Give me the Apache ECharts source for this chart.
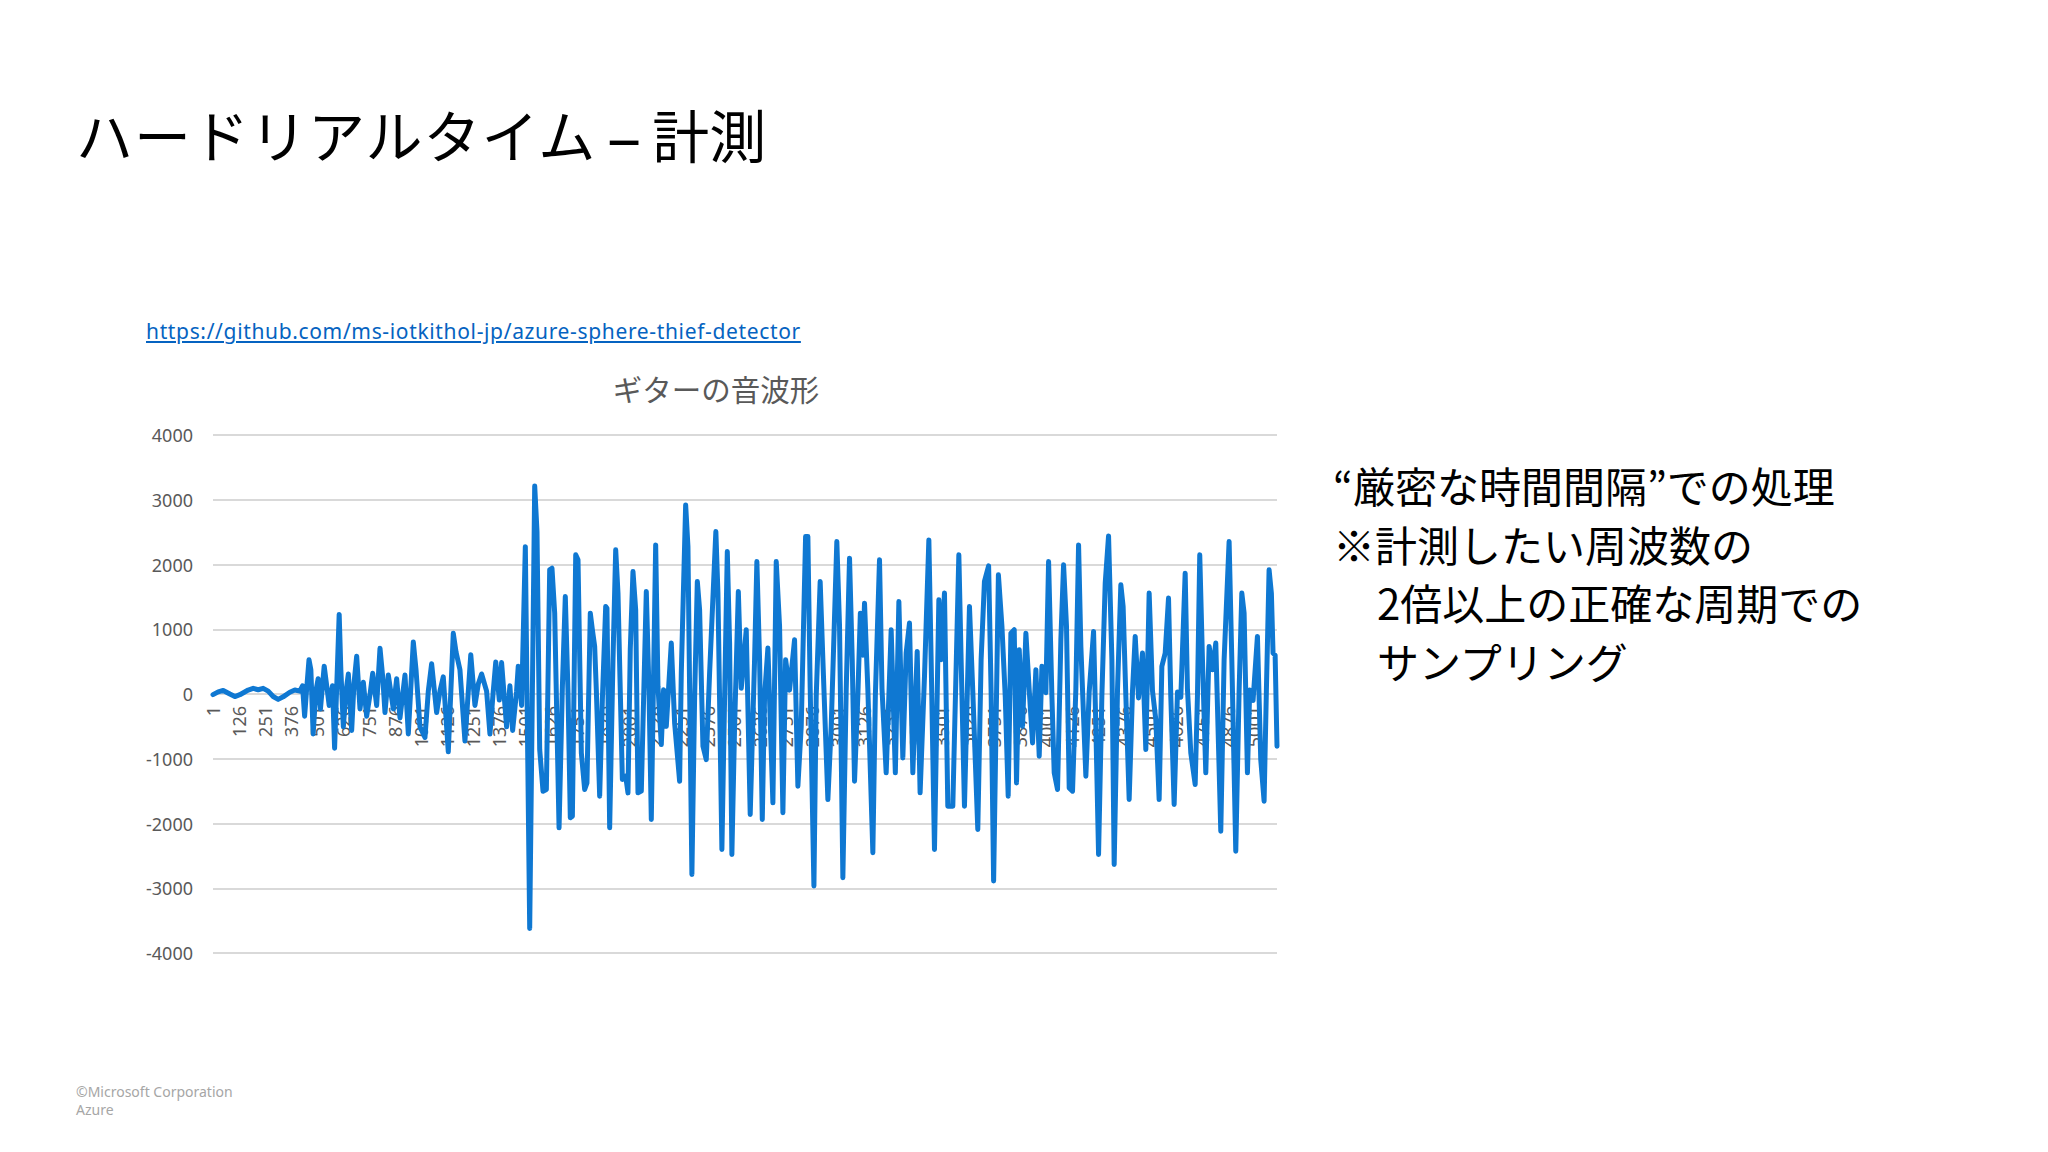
<!DOCTYPE html>
<html><head><meta charset="utf-8">
<script src="https://cdn.jsdelivr.net/npm/echarts@6/dist/echarts.min.js"></script>
<style>
html,body{margin:0;padding:0;width:2048px;height:1152px;background:#fff;overflow:hidden}
#chart{position:absolute;left:0;top:0;width:2048px;height:1152px}
.t{position:absolute;white-space:nowrap;margin:0;padding:0}
#mainTitle{left:76px;top:105px;font-family:"Noto Sans CJK JP";font-size:57px;line-height:57px;color:#000}
#mainTitle .kana{letter-spacing:1px}
#mainTitle .dash{font-family:"Noto Sans";display:inline-block;width:56px;text-align:center;transform:scaleX(1.2)}
#link{left:146px;top:321px;font-family:"Noto Sans","Open Sans";font-size:21px;line-height:21px;color:#0563C1;text-decoration:underline;letter-spacing:0.65px}
#note{left:1333px;top:456px;font-family:"Noto Sans CJK JP";font-size:42px;line-height:58.5px;color:#000}
#note .ind{padding-left:44px}
#footer{left:76px;top:1083px;font-family:"Noto Sans","Open Sans";font-size:14px;line-height:18px;color:#a6a6a6}
</style></head><body>
<div id="chart"></div>
<div class="t" id="mainTitle"><span class="kana">ハードリアルタイム</span><span class="dash">–</span>計測</div>
<div class="t" id="link">https://github.com/ms-iotkithol-jp/azure-sphere-thief-detector</div>
<div class="t" id="note"><div>“厳密な時間間隔”での処理</div><div>※計測したい周波数の</div><div class="ind">2倍以上の正確な周期での</div><div class="ind">サンプリング</div></div>
<div class="t" id="footer"><div>©Microsoft Corporation</div><div>Azure</div></div>
<script>
const chartTitle = 'ギターの音波形';
const xTickLabels = [1,126,251,376,501,626,751,876,1001,1126,1251,1376,1501,1626,1751,1876,2001,2126,2251,2376,2501,2626,2751,2876,3001,3126,3251,3376,3501,3626,3751,3876,4001,4126,4251,4376,4501,4626,4751,4876,5001];
const yTicks = [-4000,-3000,-2000,-1000,0,1000,2000,3000,4000];
const sampleIdx = [
1,26,50,82,106,130,170,194,218,242,266,290,314,338,370,394,418,
431,441,450,462,471,482,495,506,517,535,546,559,575,585,598,607,615,627,640,651,667,678,691,707,723,739,755,768,787,803,816,827,843,867,883,899,923,939,963,976,995,1019,1035,1051,1075,1091,1107,1131,1155,1168,1187,1211,1239,1259,1275,1291,1315,1331,1347,1359,1376,1387,1411,1427,1440,1459,1467,1483,
1501,1522,1546,1557,1570,1586,1602,1618,1629,1642,1663,1679,1693,1706,1717,1727,1743,1754,1770,1786,1797,1813,1823,1834,1842,1858,1871,1887,1893,1906,1922,1935,1946,1967,1983,1994,2005,2018,2031,2042,2058,2082,2095,2106,2127,2138,2154,2165,2178,2202,2218,2242,2250,2271,2282,2290,2301,2314,2327,2338,2354,2370,2386,2416,2426,2445,2459,2471,2482,2493,2506,2524,2538,2562,2581,2602,2613,2626,2639,2650,2666,2690,2706,2722,2738,2751,2770,2794,2810,2826,2847,2858,2869,2887,2898,2917,2930,2954,2970,2997,3010,3026,3042,3058,3071,3082,3098,3110,3122,3130,3146,3170,3182,3202,3214,3234,3258,3278,3295,3314,3330,3346,3362,3383,3397,3418,3439,3450,3466,3487,3498,3514,3530,3554,3583,3594,3610,3634,3650,3674,3690,3706,3726,3738,3750,3773,3790,3806,3820,3833,3849,3860,3873,3889,3905,3921,3937,3953,3969,3982,4001,4014,4030,4041,4057,4073,4086,4100,4113,4129,4145,4158,4169,4193,4209,4230,4241,4254,4270,4286,4302,4318,4329,4345,4361,4372,4385,4401,4417,4430,4446,4465,4481,4497,4513,4529,4545,4558,4574,4590,4601,4617,4633,4649,4670,4681,4697,4718,4729,4740,4753,4769,4785,4801,4817,4841,4857,4881,4894,4913,4929,4942,4953,4969,4980,4996,5017,5033,5049,5060,5073,5084,5092,5102,5111
];
const amplitude = [
-10,33,55,0,-39,-11,61,88,66,88,44,-39,-83,-44,28,61,44,
127,-342,44,529,375,-617,44,237,-231,430,154,-176,127,-838,375,1229,375,-507,44,309,-562,154,584,-231,182,-342,-11,320,-176,705,264,-287,292,-231,237,-369,292,-617,804,375,-507,-672,44,468,-287,44,264,-893,937,650,375,-727,606,-176,154,309,44,-617,44,496,-94,485,-507,127,-562,44,430,-176,
2276,-3620,3213,2509,-858,-1501,-1475,1917,1943,1249,-2067,118,1506,20,-1912,-1887,2149,2072,-910,-1475,-1373,1249,992,735,60,-1578,-87,1352,1326,-2067,530,2226,1558,-1321,-1270,-1527,684,1892,1300,-1527,-1500,1583,40,-1938,2303,120,-781,67,-500,787,-447,-1347,324,2920,2277,80,-2786,-60,1738,1300,-807,-1013,324,2509,1563,-2401,118,2200,787,-2478,-500,1583,90,992,-1861,530,2046,530,-1938,-30,710,-1681,2046,1049,-1835,530,60,838,-1424,-500,2432,2432,100,-2966,-40,1738,530,-1630,-500,2355,1049,-2838,50,2098,530,-1347,-20,1249,600,1403,70,-2452,-30,2072,80,-1218,992,-1218,1429,-987,632,1095,-1218,658,-1527,272,2380,530,-2401,1455,530,1558,-1733,-1733,2149,530,-1733,1352,40,-2092,530,1738,1979,30,-2889,1840,1044,-50,-1578,940,992,-1373,684,-500,940,60,-756,375,-961,427,20,2046,-40,-1218,-1475,838,1995,1049,-1450,-1501,80,2303,735,-1270,30,967,-500,-2478,-20,1712,2442,530,-2632,60,1686,1352,-30,-1630,40,889,-60,632,-858,1558,50,-400,-1630,427,632,1481,-40,-1707,30,-50,1866,70,-910,-1398,-20,2149,530,-1218,735,375,787,-2118,530,2355,530,-2427,40,1558,1249,-1218,60,-100,889,-1013,-1655,50,1918,1558,632,600,-807
];

const seriesData = sampleIdx.map((s, k) => [s, amplitude[k]]);
const plain = v => String(v);
const gridTop = 435, gridBottom = 199, plotH = 1152 - gridTop - gridBottom;
const yMin = yTicks[0], yMax = yTicks[yTicks.length - 1];
// move the category labels up to the zero line, as the original chart does
const zeroOffset = -Math.round(plotH * (0 - yMin) / (yMax - yMin));
const chart = echarts.init(document.getElementById('chart'), null, {renderer: 'svg', width: 2048, height: 1152});
chart.setOption({
  animation: false,
  backgroundColor: 'transparent',
  title: {
    text: chartTitle, left: 716, top: 373, padding: 0, textAlign: 'center',
    textStyle: {fontFamily: '"Noto Sans CJK JP"', fontSize: 29.5, fontWeight: 'normal', color: '#595959'}
  },
  grid: {left: 213, right: 771, top: gridTop, bottom: gridBottom, containLabel: false},
  xAxis: {
    type: 'value', min: 1, max: 5111, position: 'bottom', offset: zeroOffset,
    axisLine: {show: false, onZero: false},
    axisTick: {show: false},
    splitLine: {show: false},
    axisLabel: {
      customValues: xTickLabels, rotate: 90, margin: 12, formatter: plain,
      fontFamily: '"Noto Sans"', fontSize: 18, color: '#595959'
    }
  },
  yAxis: {
    type: 'value', min: yMin, max: yMax, interval: 1000,
    axisLine: {show: false}, axisTick: {show: false},
    splitLine: {lineStyle: {color: '#d9d9d9', width: 2}},
    axisLabel: {margin: 20, formatter: plain, fontFamily: '"Noto Sans"', fontSize: 18, color: '#595959'}
  },
  series: [{
    type: 'line', data: seriesData, showSymbol: false, smooth: false, z: 3,
    lineStyle: {width: 5, color: '#0F78D2', join: 'round', cap: 'round'},
    itemStyle: {color: '#0F78D2'}
  }]
});
</script>
</body></html>
